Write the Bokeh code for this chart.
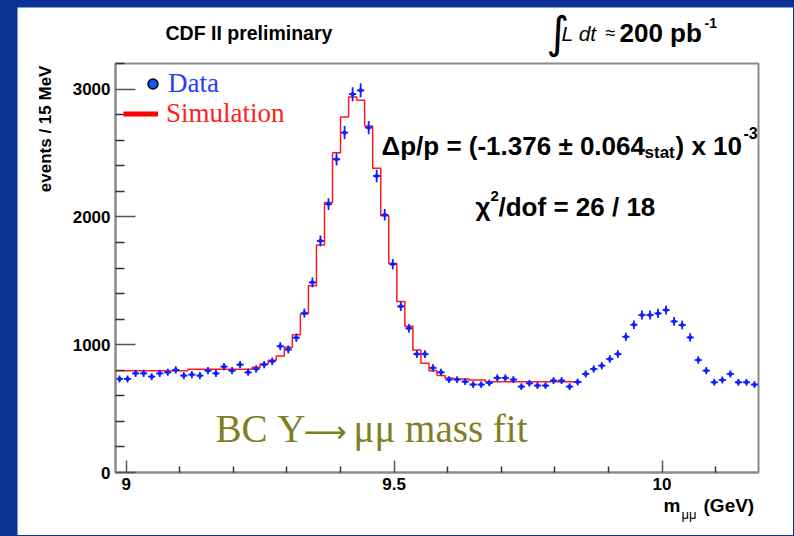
import numpy as np
from bokeh.plotting import figure
from bokeh.models import Range1d, FixedTicker, Label, Legend, LegendItem
from bokeh.embed import file_html
from bokeh.resources import INLINE

# ---------------- data ----------------
mass_lo = 8.98          # GeV, left edge of first bin
mass_hi = 10.18         # GeV, right edge of plot
bin_width = 0.015       # GeV (15 MeV bins)
y_top = 3200            # events, top of the histogram frame

data_counts = [732, 732, 776, 776, 750, 776, 784, 802, 758, 766,
               758, 797, 776, 828, 797, 844, 784, 810, 844, 870,
               988, 963, 1055, 1247, 1487, 1812, 2100, 2451, 2659, 2960,
               2990, 2698, 2320, 2016, 1630, 1300, 1128, 927, 927, 818,
               784, 727, 727, 711, 688, 688, 701, 740, 740, 727,
               672, 698, 680, 680, 719, 719, 672, 708, 771, 810,
               836, 888, 927, 1062, 1156, 1232, 1232, 1245, 1271, 1182,
               1154, 1057, 880, 797, 706, 724, 771, 706, 706, 688]

sim_counts = [797, 797, 797, 797, 797, 797, 797, 797, 797, 808,
              808, 808, 808, 808, 808, 808, 808, 823, 849, 878,
              912, 979, 1078, 1240, 1461, 1779, 2112, 2502, 2781, 2937,
              2912, 2711, 2380, 2008, 1635, 1338, 1145, 958, 854, 797,
              758, 740, 732, 732, 724, 724, 711, 711, 711, 711,
              711, 711, 711, 711, 711, 711, 711, 711]

x_major_ticks = [9.0, 9.5, 10.0]
x_tick_labels = ["9", "9.5", "10"]
x_minor_ticks = [9.1, 9.2, 9.3, 9.4, 9.6, 9.7, 9.8, 9.9, 10.1]
y_major_ticks = [0, 1000, 2000, 3000]
y_tick_labels = ["0", "1000", "2000", "3000"]
y_minor_ticks = [200, 400, 600, 800, 1200, 1400, 1600, 1800,
                 2200, 2400, 2600, 2800, 3200]

# ---------------- derived ----------------
counts = np.array(data_counts, dtype=float)
centers = mass_lo + bin_width * (np.arange(len(counts)) + 0.5)
errors = np.sqrt(counts)
half_w = 0.45 * bin_width

sim = np.array(sim_counts, dtype=float)
sim_edges = mass_lo + bin_width * np.arange(len(sim) + 1)
sim_steps = np.append(sim, sim[-1])

# ---------------- layout ----------------
FIG_W, FIG_H = 776, 528
BOX_L, BOX_R, BOX_T, BOX_B = 98, 741, 56, 465   # histogram box, figure pixels
px_x = (BOX_R - BOX_L) / (mass_hi - mass_lo)
px_y = (BOX_B - BOX_T) / y_top
x_rng = Range1d(mass_lo - BOX_L / px_x, mass_hi + (FIG_W - BOX_R) / px_x)
y_rng = Range1d(-(FIG_H - BOX_B) / px_y, y_top + BOX_T / px_y)

BG_BLUE = "#0b3396"
DATA_BLUE = "#1020ff"
SIM_RED = "#ff1a1a"
OLIVE = "#7f7f22"
GREY = "#8a8a8a"
SANS = "Liberation Sans"
SERIF = "Liberation Serif"

p = figure(width=FIG_W, height=FIG_H, min_border=0,
           x_range=x_rng, y_range=y_rng,
           output_backend="svg", toolbar_location=None)
p.margin = (7, 0, 0, 17)
p.background_fill_color = "white"
p.border_fill_color = "white"
p.outline_line_color = None
p.xgrid.visible = False
p.ygrid.visible = False

p.xaxis.fixed_location = 0
p.yaxis.fixed_location = mass_lo
p.xaxis.bounds = (mass_lo, mass_hi)
p.yaxis.bounds = (0, y_top)
p.xaxis.ticker = FixedTicker(ticks=x_major_ticks, minor_ticks=x_minor_ticks)
p.xaxis.major_label_overrides = {t: s for t, s in zip(x_major_ticks, x_tick_labels)}
p.yaxis.ticker = FixedTicker(ticks=y_major_ticks, minor_ticks=y_minor_ticks)
p.yaxis.major_label_overrides = {t: s for t, s in zip(y_major_ticks, y_tick_labels)}

for ax in (p.xaxis, p.yaxis):
    ax.axis_line_color = GREY
    ax.axis_line_width = 2
    ax.major_tick_out = 0
    ax.minor_tick_out = 0
    ax.major_tick_line_color = "#555555"
    ax.minor_tick_line_color = "#333333"
    ax.major_tick_line_width = 1.5
    ax.minor_tick_line_width = 1.5
    ax.major_label_text_font = SANS
    ax.major_label_text_font_style = "bold"
    ax.major_label_text_font_size = "17px"
    ax.major_label_text_color = "black"
p.yaxis.major_tick_in = 20
p.yaxis.minor_tick_in = 9
p.yaxis.major_label_standoff = 5
p.xaxis.major_tick_in = 12
p.xaxis.minor_tick_in = 6
p.xaxis.major_label_standoff = 5

# histogram box (top and right edges; left/bottom coincide with the axes)
p.quad(left=mass_lo, right=mass_hi, bottom=0, top=y_top,
       fill_color=None, line_color=GREY, line_width=2)

# simulation histogram
p.step(sim_edges, sim_steps, mode="after", line_color=SIM_RED, line_width=1.5)

# data points with error bars
p.segment(x0=centers - half_w, x1=centers + half_w, y0=counts, y1=counts,
          line_color=DATA_BLUE, line_width=1.8)
p.segment(x0=centers, x1=centers, y0=counts - errors, y1=counts + errors,
          line_color=DATA_BLUE, line_width=1.8)
p.scatter(centers, counts, size=3.5, marker="circle", color=DATA_BLUE)

# legend keys (one NaN row each so the key is drawn but nothing in the plot)
key_data = p.scatter(x=[np.nan], y=[np.nan], marker="circle", size=10,
                     fill_color="#1454f0", line_color="black", line_width=1.5)
key_sim = p.line(x=[np.nan, np.nan], y=[np.nan, np.nan], line_color="red", line_width=5)

leg1 = Legend(items=[LegendItem(label="Data", renderers=[key_data])],
              location=(123, 436), glyph_width=25, glyph_height=25,
              label_standoff=3, padding=0, margin=0, spacing=0,
              border_line_color=None, background_fill_alpha=0,
              label_text_font=SERIF, label_text_font_size="27px",
              label_text_color="#2a3cff")
leg2 = Legend(items=[LegendItem(label="Simulation", renderers=[key_sim])],
              location=(106, 406), glyph_width=35, glyph_height=25,
              label_standoff=8, padding=0, margin=0, spacing=0,
              border_line_color=None, background_fill_alpha=0,
              label_text_font=SERIF, label_text_font_size="27px",
              label_text_color="#ff2020")
p.add_layout(leg1)
p.add_layout(leg2)

def lab(x, y, text, size, font=SANS, style="bold", color="black",
        align="left", angle=0.0):
    p.add_layout(Label(x=x, y=y, text=text, text_font=font,
                       text_font_style=style, text_font_size=size,
                       text_color=color, text_align=align,
                       text_baseline="middle", angle=angle))

# header
lab(9.0733, 3435, "CDF II preliminary", "19.5px")
lab(9.7844, 3445, "\u222b", "44px", font="DejaVu Sans", style="normal")
lab(9.8124, 3435, "L dt", "21px", style="italic")
lab(9.8945, 3435, "\u2248", "18px", style="normal")
lab(9.9206, 3435, "200 pb", "26px")
lab(10.0792, 3515, "-1", "14px")

# fit results
lab(9.4764, 2558, "\u0394p/p = (-1.376 \u00b1 0.064", "26px")
lab(9.9673, 2504, "stat", "17px")
lab(10.0251, 2558, ") x 10", "26px")
lab(10.1520, 2655, "-3", "16px")

lab(9.6519, 2081, "\u03c7", "26px")
lab(9.6800, 2160, "2", "15px")
lab(9.6948, 2081, "/dof = 26 / 18", "26px")

# slide annotation
lab(9.1666, 348, "BC \u03a5", "39px", font=SERIF, style="normal", color=OLIVE)
lab(9.3309, 321, "\u27f6", "30px", font="DejaVu Sans", style="normal", color=OLIVE)
lab(9.4242, 348, "\u03bc\u03bc mass fit", "39px", font=SERIF, style="normal", color=OLIVE)

# axis titles
lab(8.8494, 3184, "events / 15 MeV", "17px", align="right", angle=np.pi / 2)
lab(10.0027, -258, "m", "19px")
lab(10.0363, -329, "\u03bc\u03bc", "13px", style="normal")
lab(10.0774, -258, "(GeV)", "19px")

html = file_html(p, INLINE, title="CDF Upsilon mass fit")
html = html.replace("</head>",
                    "<style>html,body{margin:0 !important;padding:0;"
                    "background:" + BG_BLUE + ";overflow:hidden;}</style></head>", 1)
open("out.html", "w").write(html)
